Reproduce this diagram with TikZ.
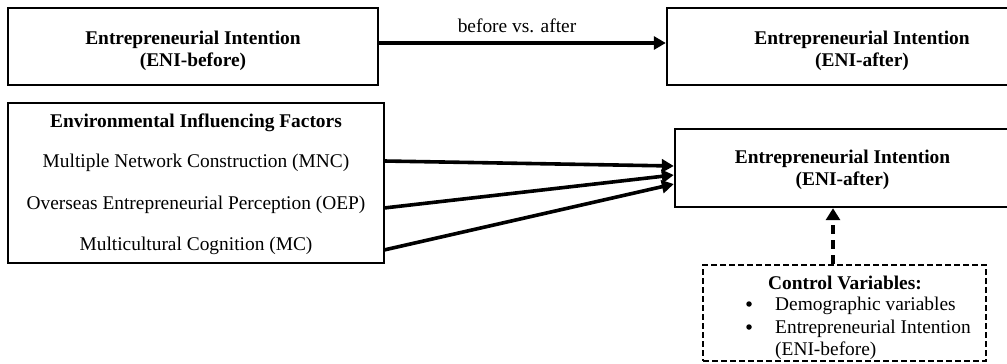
\documentclass[tikz,border=0pt]{standalone}
\usepackage{fontspec}
\setmainfont{Liberation Serif}
\usetikzlibrary{arrows.meta}
\begin{document}
\begin{tikzpicture}[x=1pt,y=-1pt,
  box/.style={draw, line width=2.4pt, inner sep=0pt},
  dbox/.style={draw, line width=2.2pt, inner sep=0pt, dash pattern=on 6pt off 3pt},
  lbl/.style={inner sep=0pt, font=\fontsize{19.4}{22.5}\selectfont, align=center},
  bul/.style={circle, fill, inner sep=0pt, minimum size=5.5pt},
  arr/.style={line width=3.6pt, -{Triangle[length=12pt,width=13pt]}},
  darr/.style={line width=4pt, dash pattern=on 9pt off 6pt, -{Triangle[length=12pt,width=14pt]}},
]
\useasboundingbox (0,0) rectangle (1007,364);
\begin{scope}
\clip (0,0) rectangle (1007,364);
\node[box, minimum width=370pt, minimum height=77pt] (b1) at (193,46.5) {};
\node[lbl, font=\fontsize{19.4}{22.5}\selectfont\bfseries] (b1t) at (193,51) {Entrepreneurial Intention\\(ENI-before)};
\node[box, minimum width=390pt, minimum height=77pt] (b2) at (862,46.5) {};
\node[lbl, font=\fontsize{19.4}{22.5}\selectfont\bfseries] (b2t) at (862,51) {Entrepreneurial Intention\\(ENI-after)};
\node[box, minimum width=376pt, minimum height=160pt] (b3) at (196,183) {};
\node[lbl, font=\fontsize{19.4}{22.5}\selectfont\bfseries] (b3t) at (196,123) {Environmental Influencing Factors};
\node[lbl] (mnc) at (196,163) {Multiple Network Construction (MNC)};
\node[lbl] (oep) at (196,205) {Overseas Entrepreneurial Perception (OEP)};
\node[lbl] (mc) at (196,246) {Multicultural Cognition (MC)};
\node[box, minimum width=335pt, minimum height=78pt] (b4) at (842.5,168) {};
\node[lbl, font=\fontsize{19.4}{22.5}\selectfont\bfseries] (b4t) at (842.5,170) {Entrepreneurial Intention\\(ENI-after)};
\node[dbox, minimum width=283pt, minimum height=96pt] (cv) at (844.5,313) {};
\node[lbl, font=\fontsize{19.4}{22.5}\selectfont\bfseries] (cvt) at (845,283) {Control Variables:};
\node[bul] (bu1) at (749,304) {};
\node[bul] (bu2) at (749,327) {};
\node[lbl, anchor=west] (cv1) at (775,306) {Demographic variables};
\node[lbl, anchor=west] (cv2) at (775,329) {Entrepreneurial Intention};
\node[lbl, anchor=west] (cv3) at (775,351) {(ENI-before)};
\end{scope}
\node[lbl] (ba) at (517,26) {before vs. after};
\draw[arr] ([yshift=3.5pt]b1.east) -- ([yshift=3.5pt]b2.west);
\coordinate (s1) at (384,161);
\coordinate (s2) at (384,208);
\coordinate (s3) at (384,250);
\draw[arr] (s1) -- ([yshift=2pt]b4.west);
\draw[arr] (s2) -- ([yshift=-7pt]b4.west);
\draw[arr] (s3) -- ([yshift=-16pt]b4.west);
\coordinate (ax) at (833,0);
\draw[darr] (cv.north -| ax) -- (b4.south -| ax);
\end{tikzpicture}
\end{document}
